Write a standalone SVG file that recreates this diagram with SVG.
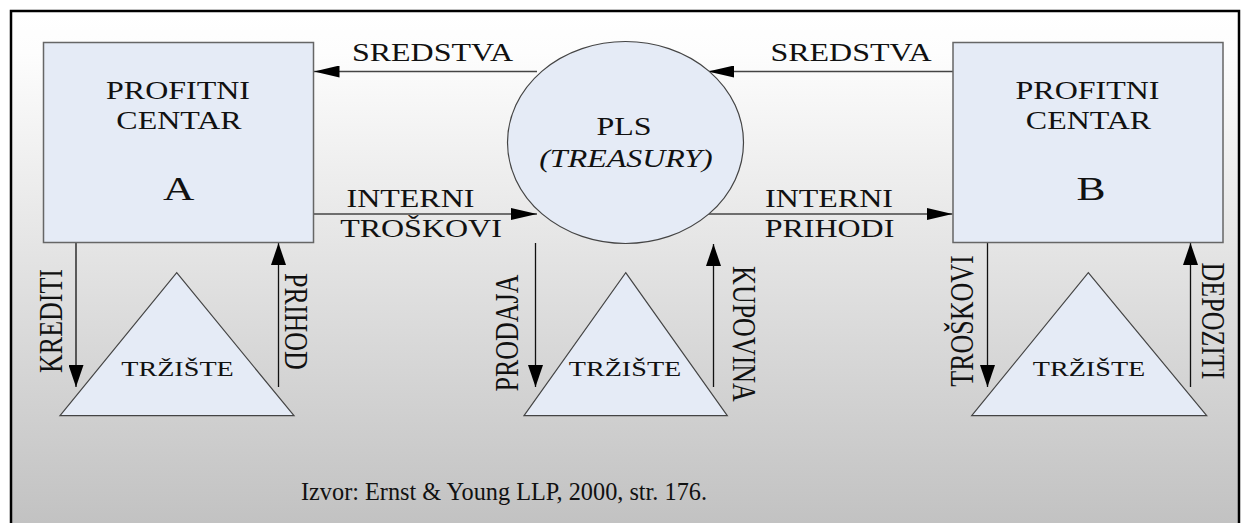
<svg xmlns="http://www.w3.org/2000/svg" width="1251" height="523" viewBox="0 0 1251 523">
<defs>
<linearGradient id="bg" x1="0" y1="12" x2="0" y2="523" gradientUnits="userSpaceOnUse">
<stop offset="0" stop-color="#ffffff"/>
<stop offset="0.08" stop-color="#fdfdfd"/>
<stop offset="1" stop-color="#c2c2c2"/>
</linearGradient>
<marker id="ah" markerUnits="userSpaceOnUse" markerWidth="26" markerHeight="12" refX="26" refY="6" orient="auto"><path d="M0,0 L26,6 L0,12 z" fill="#000"/></marker>
<marker id="av" markerUnits="userSpaceOnUse" markerWidth="22" markerHeight="15" refX="22" refY="7.5" orient="auto"><path d="M0,0 L22,7.5 L0,15 z" fill="#000"/></marker>
</defs>
<style>
text{font-family:'Liberation Serif','Tinos','DejaVu Serif',serif}
.t{font-size:25px;fill:#111;text-anchor:middle}
.v{font-size:26px}
.m{font-size:22px}
.big{font-size:34px}
.it{font-style:italic}
.shape{fill:#e5ebf6;stroke:#444;stroke-width:1.2}
.box{fill:#e5ebf6;stroke:#666;stroke-width:1.5}
.h{stroke:#444;stroke-width:1.5;fill:none;marker-end:url(#ah)}
.vl{stroke:#111;stroke-width:1.3;fill:none;marker-end:url(#av)}
</style>
<rect x="0" y="0" width="1251" height="523" fill="#fff"/>
<rect x="11" y="11" width="1228" height="520" fill="url(#bg)" stroke="#000" stroke-width="2.5"/>

<g id="connectors">
<path class="h" d="M537,71.5 L313.5,71.5"/>
<path class="h" d="M953,71.5 L708,71.5"/>
<path class="h" d="M313,214 L537,214"/>
<path class="h" d="M708,214 L952.5,214"/>
<path class="vl" d="M76,242.5 L76,387"/>
<path class="vl" d="M278.5,387 L278.5,243"/>
<path class="vl" d="M535.5,243 L535.5,387"/>
<path class="vl" d="M713.5,387 L713.5,244"/>
<path class="vl" d="M987.5,242.5 L987.5,387"/>
<path class="vl" d="M1190.5,387 L1190.5,243"/>
<text class="t" transform="translate(432.5,60.7) scale(1.28,1)">SREDSTVA</text>
<text class="t" transform="translate(851,60.7) scale(1.28,1)">SREDSTVA</text>
<text class="t" transform="translate(410.5,206.5) scale(1.28,1)">INTERNI</text>
<text class="t" transform="translate(421,237) scale(1.28,1)">TROŠKOVI</text>
<text class="t" transform="translate(829,206.5) scale(1.28,1)">INTERNI</text>
<text class="t" transform="translate(829.5,237) scale(1.28,1)">PRIHODI</text>
<text class="t v" transform="translate(61.5,321) scale(1.28,1) rotate(-90)">KREDITI</text>
<text class="t v" transform="translate(285,321.5) scale(1.28,1) rotate(90)">PRIHOD</text>
<text class="t v" transform="translate(518.3,333) scale(1.28,1) rotate(-90)">PRODAJA</text>
<text class="t v" transform="translate(733,334) scale(1.28,1) rotate(90)">KUPOVINA</text>
<text class="t v" transform="translate(973.3,321) scale(1.28,1) rotate(-90)">TROŠKOVI</text>
<text class="t v" transform="translate(1201.7,321) scale(1.28,1) rotate(90)">DEPOZITI</text>
</g>

<g id="centerA">
<rect class="box" x="43.5" y="42.5" width="270" height="200"/>
<text class="t" transform="translate(178,99.3) scale(1.28,1)">PROFITNI</text>
<text class="t" transform="translate(179,128.5) scale(1.28,1)">CENTAR</text>
<text class="t big" transform="translate(178.7,199.5) scale(1.28,1)">A</text>
</g>

<g id="centerB">
<rect class="box" x="953" y="42.5" width="270" height="200"/>
<text class="t" transform="translate(1087.5,99.3) scale(1.28,1)">PROFITNI</text>
<text class="t" transform="translate(1088.5,128.5) scale(1.28,1)">CENTAR</text>
<text class="t big" transform="translate(1091,199.5) scale(1.28,1)">B</text>
</g>

<g id="pls">
<ellipse class="shape" cx="625.5" cy="142.5" rx="118" ry="101"/>
<text class="t" transform="translate(624,135) scale(1.28,1)">PLS</text>
<text class="t it" transform="translate(626,166.7) scale(1.28,1)">(TREASURY)</text>
</g>

<g id="marketA">
<polygon class="shape" points="176.7,272.7 294,415.7 60,415.7"/>
<text class="t m" transform="translate(177.5,376) scale(1.28,1)">TRŽIŠTE</text>
</g>

<g id="marketPLS">
<polygon class="shape" points="625.7,272.7 727.3,415.7 524,415.7"/>
<text class="t m" transform="translate(625,376) scale(1.28,1)">TRŽIŠTE</text>
</g>

<g id="marketB">
<polygon class="shape" points="1088.3,272.7 1206.7,415.7 971.7,415.7"/>
<text class="t m" transform="translate(1089,376) scale(1.28,1)">TRŽIŠTE</text>
</g>

<g id="source">
<text class="t" x="504" y="500" textLength="406" lengthAdjust="spacingAndGlyphs">Izvor: Ernst &amp; Young LLP, 2000, str. 176.</text>
</g>
</svg>
